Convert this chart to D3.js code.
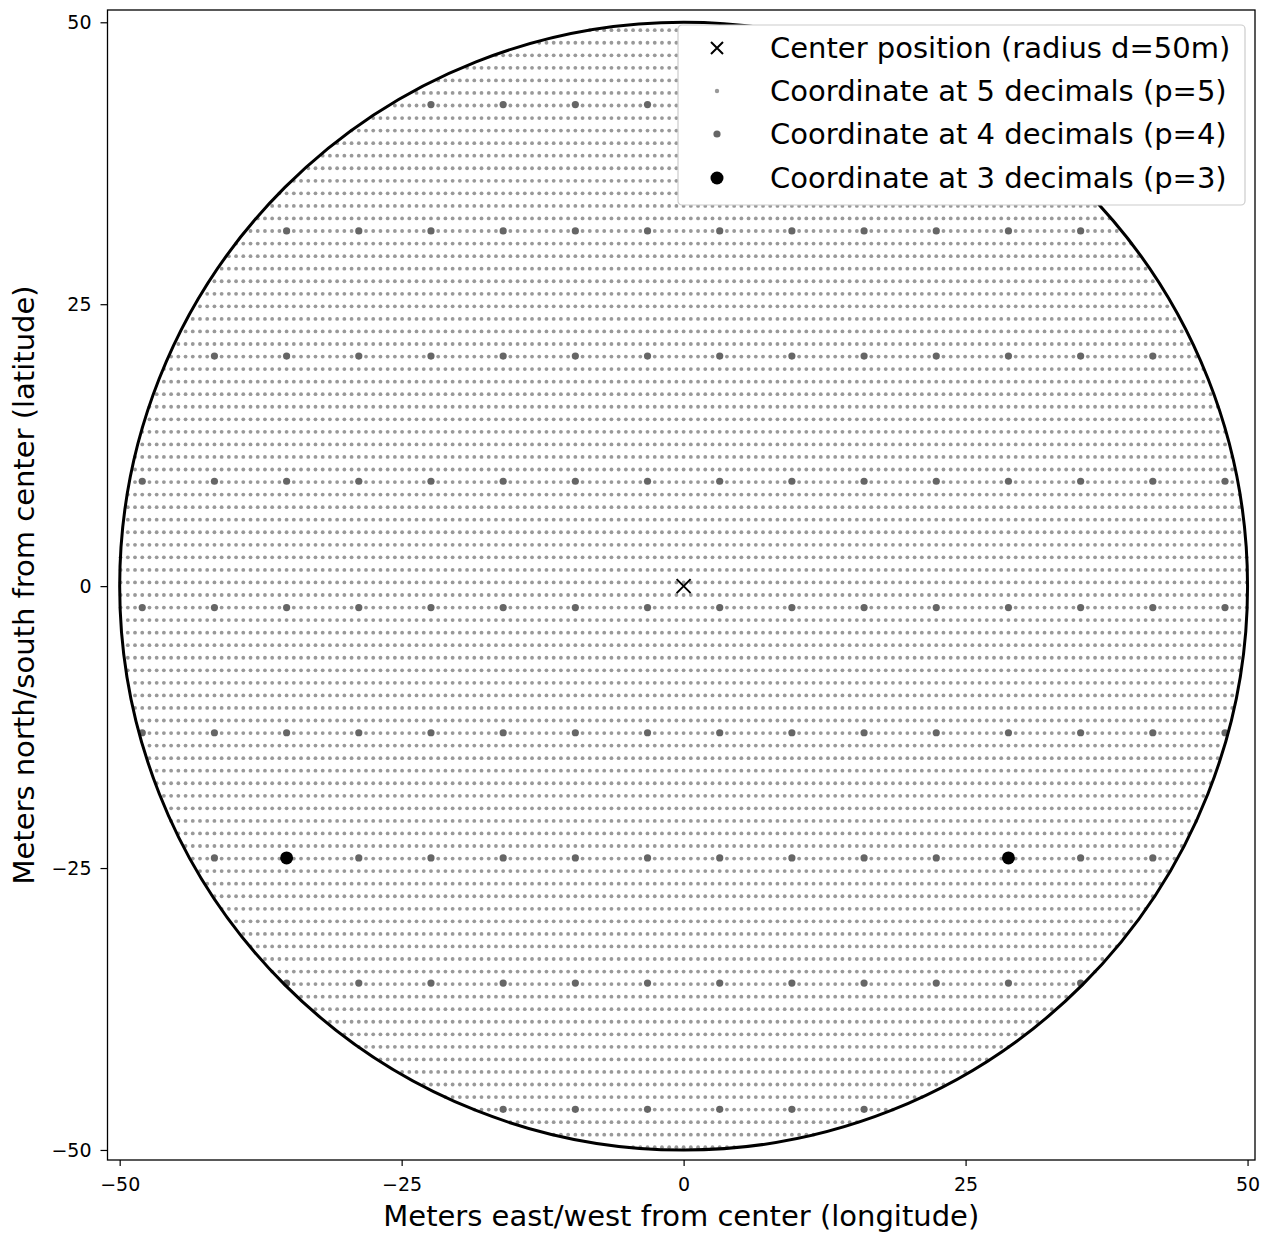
<!DOCTYPE html>
<html lang="en">
<head>
<meta charset="UTF-8">
<title>coordinate precision</title>
<style>
  body { margin: 0; background: #fff; }
  text { font-family: "DejaVu Sans", sans-serif; fill: #000; }
  .tick line { stroke: #000; stroke-width: 1.2px; }
  .domain { display: none; }
</style>
</head>
<body>
<div id="chart"></div>
<script src="https://d3js.org/d3.v7.min.js"></script>
<script>
// values in meters from the center
var radius = 50;
var center = [0, 0];
var xTicks = [-50, -25, 0, 25, 50];
var yTicks = [-50, -25, 0, 25, 50];

// coordinates rounded at 4 decimals (grid columns / rows)
var p4Cols = [-48.0, -41.6, -35.2, -28.8, -22.4, -16.0, -9.6, -3.2, 3.2, 9.6, 16.0, 22.4, 28.8, 35.2, 41.6, 48.0];
var p4Rows = [42.7, 31.5, 20.4, 9.3, -1.9, -13.0, -24.1, -35.2, -46.4];

// coordinates rounded at 3 decimals
var p3Points = [[-35.2, -24.1], [28.8, -24.1]];

// 5 decimals: one step of 0.00001 deg in lon / lat
var p5Step = [0.64, 1.113];
var p5Origin = [0, -1.9];

var legendLabels = [
  "Center position (radius d=50m)",
  "Coordinate at 5 decimals (p=5)",
  "Coordinate at 4 decimals (p=4)",
  "Coordinate at 3 decimals (p=3)"
];

var W = 1263, H = 1233;
var plot = {left: 107.5, right: 1255, top: 10, bottom: 1160};

var svg = d3.select("#chart").append("svg")
  .attr("width", W).attr("height", H);

var x = d3.scaleLinear().domain([-51.08, 50.66]).range([plot.left, plot.right]);
var y = d3.scaleLinear().domain([-50.89, 51.09]).range([plot.bottom, plot.top]);

// build the grids (only points inside the circle)
function inside(p) { return Math.hypot(p[0] - center[0], p[1] - center[1]) <= radius; }

var p5 = [];
var iMax = Math.ceil(radius / p5Step[0]) + 1, jMax = Math.ceil(radius / p5Step[1]) + 2;
for (var i = -iMax; i <= iMax; i++) {
  for (var j = -jMax; j <= jMax; j++) {
    var pt = [p5Origin[0] + i * p5Step[0], p5Origin[1] + j * p5Step[1]];
    if (inside(pt)) p5.push(pt);
  }
}
var p4 = [];
p4Rows.forEach(function(r) {
  p4Cols.forEach(function(c) { if (inside([c, r])) p4.push([c, r]); });
});

var g = svg.append("g");

g.selectAll(".p5").data(p5).enter().append("circle")
  .attr("class", "p5")
  .attr("cx", function(d) { return x(d[0]); })
  .attr("cy", function(d) { return y(d[1]); })
  .attr("r", 1.9)
  .attr("fill", "#999");

g.selectAll(".p4").data(p4).enter().append("circle")
  .attr("class", "p4")
  .attr("cx", function(d) { return x(d[0]); })
  .attr("cy", function(d) { return y(d[1]); })
  .attr("r", 3.6)
  .attr("fill", "#666");

// circle of radius d
g.append("circle")
  .attr("cx", x(center[0])).attr("cy", y(center[1]))
  .attr("r", x(radius) - x(0))
  .attr("fill", "none")
  .attr("stroke", "#000")
  .attr("stroke-width", 3);

g.selectAll(".p3").data(p3Points).enter().append("circle")
  .attr("class", "p3")
  .attr("cx", function(d) { return x(d[0]); })
  .attr("cy", function(d) { return y(d[1]); })
  .attr("r", 6.5)
  .attr("fill", "#000");

function cross(sel, cx, cy, size) {
  sel.append("path")
    .attr("d", "M" + (cx - size) + "," + (cy - size) + "L" + (cx + size) + "," + (cy + size) +
               "M" + (cx - size) + "," + (cy + size) + "L" + (cx + size) + "," + (cy - size))
    .attr("stroke", "#000").attr("stroke-width", 2).attr("fill", "none");
}
cross(g, x(center[0]), y(center[1]), 7);

// frame
svg.append("rect")
  .attr("x", plot.left).attr("y", plot.top)
  .attr("width", plot.right - plot.left).attr("height", plot.bottom - plot.top)
  .attr("fill", "none").attr("stroke", "#000").attr("stroke-width", 1.3);

// axes
var xAxis = d3.axisBottom(x).tickValues(xTicks).tickSize(6).tickPadding(12);
svg.append("g").attr("transform", "translate(0," + plot.bottom + ")").call(xAxis)
  .selectAll("text").style("font-size", "19px");

var yAxis = d3.axisLeft(y).tickValues(yTicks).tickSize(7).tickPadding(9);
svg.append("g").attr("transform", "translate(" + plot.left + ",0)").call(yAxis)
  .selectAll("text").style("font-size", "19px");

svg.append("text")
  .attr("x", (plot.left + plot.right) / 2 + 0).attr("y", 1226)
  .attr("text-anchor", "middle").style("font-size", "29px")
  .text("Meters east/west from center (longitude)");

svg.append("text")
  .attr("transform", "translate(34," + ((plot.top + plot.bottom) / 2) + ") rotate(-90)")
  .attr("text-anchor", "middle").style("font-size", "29px")
  .text("Meters north/south from center (latitude)");

// legend
var lg = svg.append("g").attr("transform", "translate(678,25)");
lg.append("rect")
  .attr("width", 567).attr("height", 180).attr("rx", 4)
  .attr("fill", "#fff")
  .attr("stroke", "#ccc").attr("stroke-width", 1.2);

var rowY = [23, 66, 109, 153];
cross(lg, 39, rowY[0], 6);
lg.append("circle").attr("cx", 39).attr("cy", rowY[1]).attr("r", 2.2).attr("fill", "#999");
lg.append("circle").attr("cx", 39).attr("cy", rowY[2]).attr("r", 3.6).attr("fill", "#666");
lg.append("circle").attr("cx", 39).attr("cy", rowY[3]).attr("r", 6.5).attr("fill", "#000");

lg.selectAll(".lab").data(legendLabels).enter().append("text")
  .attr("class", "lab")
  .attr("x", 92)
  .attr("y", function(d, i) { return rowY[i] + 10; })
  .style("font-size", "29px")
  .text(function(d) { return d; });
</script>
</body>
</html>
